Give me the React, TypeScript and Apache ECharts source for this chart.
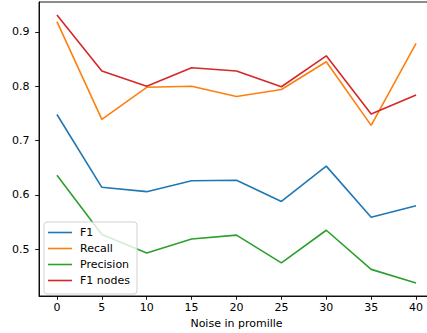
import React, { useEffect, useRef } from "react";
import * as echarts from "echarts";

const noise = [0, 5, 10, 15, 20, 25, 30, 35, 40];
const f1 = [0.748, 0.614, 0.606, 0.626, 0.627, 0.588, 0.653, 0.559, 0.58];
const recall = [0.919, 0.739, 0.798, 0.8, 0.781, 0.794, 0.845, 0.728, 0.879];
const precision = [0.636, 0.527, 0.493, 0.519, 0.526, 0.475, 0.535, 0.463, 0.438];
const f1Nodes = [0.931, 0.828, 0.8, 0.834, 0.828, 0.799, 0.856, 0.749, 0.784];
const xTicks = [0, 5, 10, 15, 20, 25, 30, 35, 40];
const yTicks = [0.5, 0.6, 0.7, 0.8, 0.9];

const seriesDefs = [
  { name: "F1", data: f1, color: "#1f77b4" },
  { name: "Recall", data: recall, color: "#ff7f0e" },
  { name: "Precision", data: precision, color: "#2ca02c" },
  { name: "F1 nodes", data: f1Nodes, color: "#d62728" },
];

const FONT = "'DejaVu Sans', sans-serif";
const FS = 11;

export default function App() {
  const ref = useRef<HTMLDivElement>(null);
  useEffect(() => {
    const chart = echarts.init(ref.current!, null, { renderer: "svg" });
    chart.setOption({
      animation: false,
      backgroundColor: "#fff",
      grid: {
        left: 39,
        top: 2,
        width: 395,
        height: 294,
        show: true,
        borderColor: "#000",
        borderWidth: 0.9,
        containLabel: false,
        outerBoundsMode: "none",
      },
      xAxis: {
        type: "value",
        min: -2,
        max: 42,
        name: "Noise in promille",
        nameLocation: "middle",
        nameGap: 20,
        nameTextStyle: { fontFamily: FONT, fontSize: FS, color: "#000" },
        splitLine: { show: false },
        axisLine: { show: true, onZero: false, lineStyle: { color: "#000", width: 0.9 } },
        axisTick: { show: true, length: 3.8, customValues: xTicks, lineStyle: { color: "#000", width: 0.9 } },
        axisLabel: { customValues: xTicks, margin: 6, fontFamily: FONT, fontSize: FS, color: "#000" },
      },
      yAxis: {
        type: "value",
        min: 0.414,
        max: 0.955,
        splitLine: { show: false },
        axisLine: { show: true, onZero: false, lineStyle: { color: "#000", width: 0.9 } },
        axisTick: { show: true, length: 3.8, customValues: yTicks, lineStyle: { color: "#000", width: 0.9 } },
        axisLabel: {
          customValues: yTicks,
          margin: 9.5,
          fontFamily: FONT,
          fontSize: FS,
          color: "#000",
          formatter: (v: number) => v.toFixed(1),
        },
      },
      legend: {
        orient: "vertical",
        left: 44,
        top: 222,
        itemWidth: 24,
        itemHeight: 10,
        itemGap: 5,
        padding: [5, 7, 8, 4],
        icon: "path://M0,0L24,0L24,1.6L0,1.6Z",
        backgroundColor: "rgba(255,255,255,0.8)",
        borderColor: "#ccc",
        borderWidth: 0.9,
        borderRadius: 3,
        textStyle: { fontFamily: FONT, fontSize: FS, color: "#000", padding: [0, 0, 0, 3] },
        data: seriesDefs.map((s) => s.name),
      },
      series: seriesDefs.map((s) => ({
        name: s.name,
        type: "line",
        data: noise.map((x, i) => [x, s.data[i]]),
        symbol: "none",
        color: s.color,
        lineStyle: { color: s.color, width: 1.6 },
      })),
    });
    return () => chart.dispose();
  }, []);
  return (
    <div
      ref={ref}
      style={{ position: "fixed", left: 0, top: 0, width: 427, height: 333 }}
    />
  );
}
